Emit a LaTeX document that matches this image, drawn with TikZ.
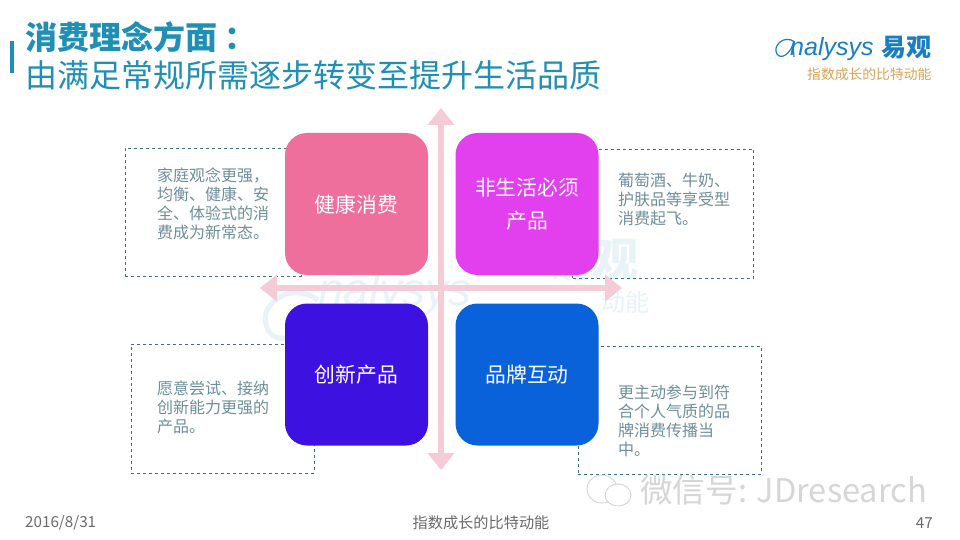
\documentclass[tikz,border=0pt]{standalone}
\usepackage{fontspec}
\setmainfont{Noto Sans CJK SC}
\newfontfamily\latinfont{Liberation Sans}
\usepackage{xcolor}
\usetikzlibrary{arrows.meta, positioning, calc}
\definecolor{titleBlue}{HTML}{1F8FB5}
\definecolor{noteGray}{HTML}{6E8E9C}
\definecolor{dashGray}{HTML}{3F6F80}
\definecolor{axisPink}{HTML}{F5CBD8}
\definecolor{healthPink}{HTML}{EE6F9B}
\definecolor{luxMagenta}{HTML}{E23FEE}
\definecolor{newIndigo}{HTML}{3D12E0}
\definecolor{brandBlue}{HTML}{0A62DB}
\definecolor{sloganOrange}{HTML}{D9A35A}
\definecolor{markGray}{HTML}{D6D6D6}
\definecolor{footGray}{HTML}{6A6A6A}
\definecolor{ghostBlue}{HTML}{E8F3F8}
\definecolor{logoBlue}{HTML}{1A7FC0}

\begin{document}
\begin{tikzpicture}[x=1pt, y=-1pt,
    capab/.style={rounded corners=22pt, minimum width=143pt, minimum height=142pt,
                align=center, inner sep=0pt, text=white, font=\fontsize{20.8}{33}\selectfont},
    notebox/.style={draw=dashGray, dashed, line width=0.6pt, inner sep=0pt},
    note/.style={text=noteGray, text width=116pt, align=left, inner sep=0pt,
                font=\fontsize{16}{19}\selectfont},
    axis/.style={{Triangle[width=26pt,length=17pt]}-{Triangle[width=26pt,length=17pt]},
                line width=6pt, axisPink},
    foot/.style={text=footGray, inner sep=0pt, font=\fontsize{15.2}{18}\selectfont},
  ]
    \useasboundingbox (0,0) rectangle (960,540);
    \fill[white] (0,0) rectangle (960,540);

    % watermark behind the matrix
    \draw[ghostBlue, line width=5pt] (318,300) .. controls (290,280) and (255,305) .. (268,330)
      .. controls (278,348) and (310,335) .. (320,305);
    \node[text=ghostBlue, inner sep=0pt, font=\latinfont\itshape\fontsize{46}{46}\selectfont]
      (ghostname) at (395,294) {nalysys};
    \node[text=ghostBlue, inner sep=0pt, font=\bfseries\fontsize{46}{46}\selectfont]
      (ghostcn) at (592,260) {易观};
    \node[anchor=east, text=ghostBlue, inner sep=0pt, font=\fontsize{24}{24}\selectfont]
      (ghostmotto) at (650,302) {动能};

    % header
    \fill[titleBlue] (10,41) rectangle (14,73);
    \node[anchor=west, text=titleBlue, inner sep=0pt, font=\bfseries\fontsize{32}{36}\selectfont]
      (head) at (25,37) {消费理念方面\hspace{7pt}：};
    \node[anchor=west, text=titleBlue, inner sep=0pt, font=\fontsize{32}{36}\selectfont]
      (sub) at (25,75) {由满足常规所需逐步转变至提升生活品质};

    % logo
    \draw[logoBlue, line width=1.2pt] (795,42) .. controls (784,34) and (772,46) .. (777,54)
      .. controls (781,60) and (790,54) .. (793,44) -- (794,57);
    \node[anchor=west, text=logoBlue, inner sep=0pt, font=\latinfont\itshape\fontsize{25}{28}\selectfont]
      (logo) at (790,49) {nalysys};
    \node[anchor=west, text=logoBlue, inner sep=0pt, font=\bfseries\fontsize{25}{28}\selectfont]
      (logocn) at (881,48) {易观};
    \node[anchor=west, text=sloganOrange, inner sep=0pt, font=\fontsize{13.8}{16}\selectfont]
      (slogan) at (807,74) {指数成长的比特动能};

    % dashed frames
    \node[notebox, minimum width=176pt, minimum height=128pt] (frameA) at (213,212) {};
    \node[notebox, minimum width=181pt, minimum height=129pt] (frameB) at (663,213.5) {};
    \node[notebox, minimum width=183pt, minimum height=129pt] (frameC) at (222.5,408.5) {};
    \node[notebox, minimum width=183pt, minimum height=128pt] (frameD) at (669.5,410) {};

    % axes
    \coordinate (axisN) at (441,108);
    \coordinate (axisS) at (441,470);
    \coordinate (axisW) at (260,288);
    \coordinate (axisE) at (622,288);
    \draw[axis] (axisN) -- (axisS);
    \draw[axis] (axisW) -- (axisE);

    % quadrants
    \node[capab, fill=healthPink] (health) at (356.5,204) {健康消费};
    \node[capab, fill=luxMagenta] (lux)    at (527,204)   {非生活必须\\产品};
    \node[capab, fill=newIndigo]  (fresh)  at (356.5,374.5) {创新产品};
    \node[capab, fill=brandBlue]  (brand)  at (527,374.5) {品牌互动};

    % notes
    \node[note, anchor=north west] (noteA) at (157,168) {家庭观念更强，\\均衡、健康、安\\全、体验式的消\\费成为新常态。};
    \node[note, anchor=north west] (noteB) at (618,173) {葡萄酒、牛奶、\\护肤品等享受型\\消费起飞。};
    \node[note, anchor=north west] (noteC) at (157,381) {愿意尝试、接纳\\创新能力更强的\\产品。};
    \node[note, anchor=north west] (noteD) at (618,385) {更主动参与到符\\合个人气质的品\\牌消费传播当\\中。};

    % wechat mark
    \draw[markGray, line width=0.9pt] (602,489) ellipse (15pt and 14pt);
    \draw[markGray, line width=0.9pt, fill=white] (618,495) ellipse (13pt and 11pt);
    \node[anchor=west, text=markGray, inner sep=0pt, font=\fontsize{32.6}{36}\selectfont]
      (wechat) at (640,490) {微信号: JDresearch};

    % footer
    \node[foot, anchor=west] (date) at (25,523) {2016/8/31};
    \node[foot, anchor=center] (motto) at (481,523) {指数成长的比特动能};
    \node[foot, anchor=east] (page) at (933,523) {47};
  \end{tikzpicture}
\end{document}
